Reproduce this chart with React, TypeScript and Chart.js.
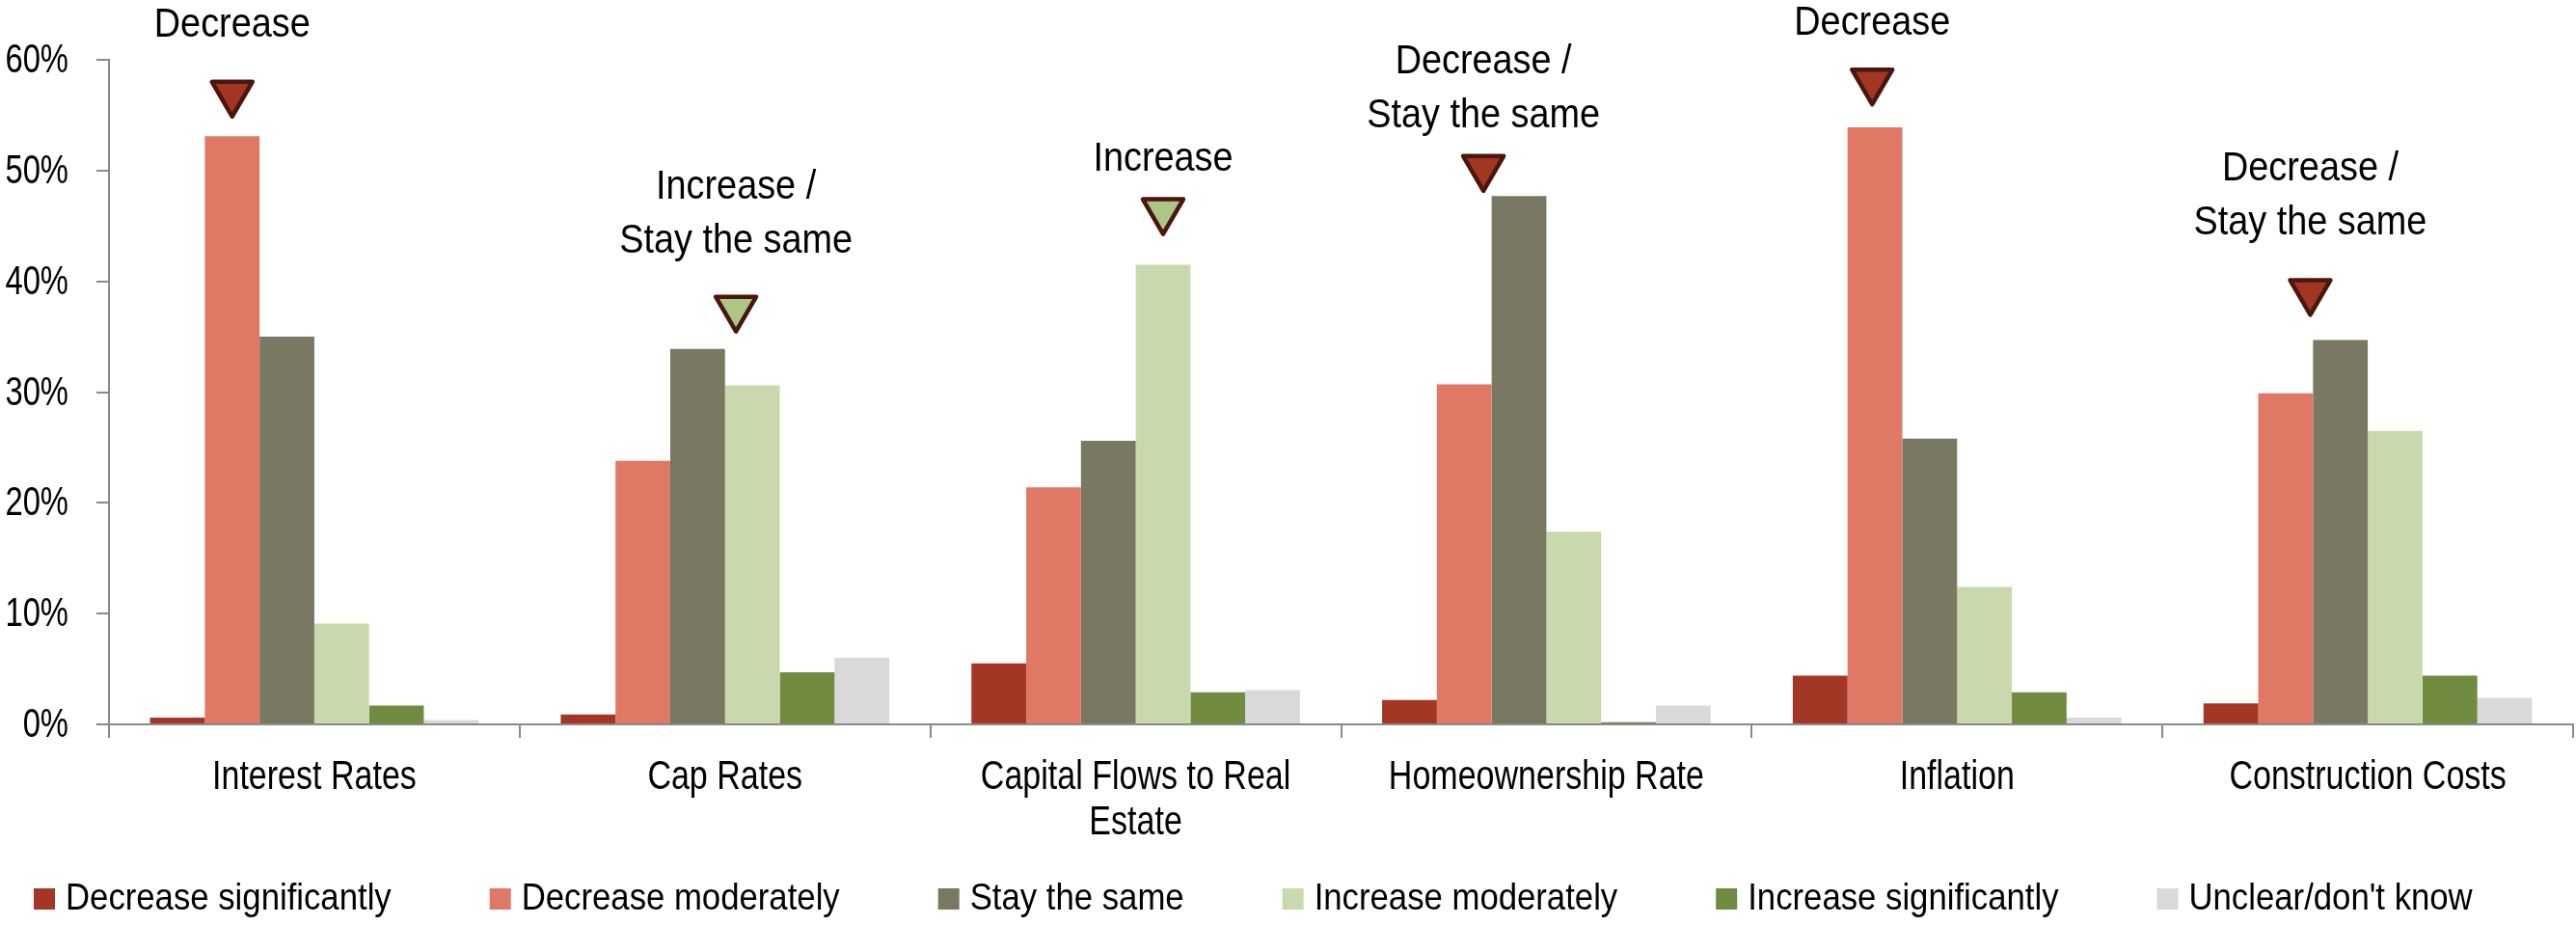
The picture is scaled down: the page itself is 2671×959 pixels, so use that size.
import React, { useEffect, useRef } from "react";
import { Chart, registerables } from "chart.js";

Chart.register(...registerables);

// ---------- data ----------
const categories: (string | string[])[] = [
  "Interest Rates",
  "Cap Rates",
  ["Capital Flows to Real", "Estate"],
  "Homeownership Rate",
  "Inflation",
  "Construction Costs",
];

const seriesNames = [
  "Decrease significantly",
  "Decrease moderately",
  "Stay the same",
  "Increase moderately",
  "Increase significantly",
  "Unclear/don't know",
];

const decreaseSignificantly = [0.6, 0.9, 5.5, 2.2, 4.4, 1.9];
const decreaseModerately = [53.1, 23.8, 21.4, 30.7, 53.9, 29.9];
const stayTheSame = [35.0, 33.9, 25.6, 47.7, 25.8, 34.7];
const increaseModerately = [9.1, 30.6, 41.5, 17.4, 12.4, 26.5];
const increaseSignificantly = [1.7, 4.7, 2.9, 0.2, 2.9, 4.4];
const unclearDontKnow = [0.4, 6.0, 3.1, 1.7, 0.6, 2.4];

const yMin = 0;
const yMax = 60;
const yStep = 10;

// consensus call shown above each category
const outlookLabels: string[][] = [
  ["Decrease"],
  ["Increase /", "Stay the same"],
  ["Increase"],
  ["Decrease /", "Stay the same"],
  ["Decrease"],
  ["Decrease /", "Stay the same"],
];
const outlookDirection = ["down", "up", "up", "down", "down", "down"];
// marker anchor: offset in bar widths from category centre, and value (%) of marker tip / label baseline
const markerBarOffset = [-1.5, 0.2, 0.5, -1.15, -1.55, -1.05];
const markerTipValue = [54.7, 35.3, 44.1, 48.0, 55.8, 36.8];
const labelBaselineValue = [62.1, 42.6, 50.0, 53.9, 62.3, 44.2];

// ---------- styles ----------
const seriesColors = ["#a33624", "#df7965", "#797862", "#c9d9ad", "#718b41", "#d9d9d9"];
const axisColor = "#8a8a8a";
const sansFamily = "'Liberation Sans', Arial, sans-serif";

function drawScaledText(ctx: any, text: string, x: number, y: number, sx: number, align: string) {
  ctx.save();
  ctx.translate(x, y);
  ctx.scale(sx, 1);
  ctx.textAlign = align;
  ctx.textBaseline = "alphabetic";
  ctx.fillText(text, 0, 0);
  ctx.restore();
}

// axis tick labels (Arial-Narrow look: horizontally condensed)
const axisLabelPlugin = {
  id: "axisLabels",
  afterDraw(chart: any) {
    const { ctx } = chart;
    const x = chart.scales.x;
    const y = chart.scales.y;
    ctx.save();
    ctx.fillStyle = "#000";
    ctx.font = `42px ${sansFamily}`;
    for (let i = 0; i < categories.length; i++) {
      const lab = categories[i];
      const lines = Array.isArray(lab) ? lab : [lab];
      const cx = x.getPixelForValue(i);
      lines.forEach((ln, j) => {
        drawScaledText(ctx, ln, cx, x.top + 67 + j * 47, 0.81, "center");
      });
    }
    y.ticks.forEach((t: any) => {
      const py = y.getPixelForValue(t.value);
      drawScaledText(ctx, `${t.value}%`, y.right - 42, py + 13, 0.78, "right");
    });
    ctx.restore();
  },
};

const outlookPlugin = {
  id: "outlook",
  afterDatasetsDraw(chart: any) {
    const { ctx } = chart;
    const x = chart.scales.x;
    const y = chart.scales.y;
    const el: any = chart.getDatasetMeta(0).data[0];
    const barW = el && el.width ? el.width : (x.width / categories.length) * 0.8 / 6;
    ctx.save();
    for (let i = 0; i < categories.length; i++) {
      const cx = x.getPixelForValue(i) + markerBarOffset[i] * barW;
      const tip = y.getPixelForValue(markerTipValue[i]);
      const h = 40;
      const hw = 23;
      ctx.beginPath();
      ctx.moveTo(cx - hw + 2, tip - h + 2);
      ctx.lineTo(cx + hw - 2, tip - h + 2);
      ctx.lineTo(cx, tip - 2);
      ctx.closePath();
      ctx.fillStyle = outlookDirection[i] === "down" ? "#a23623" : "#adc586";
      ctx.fill();
      ctx.lineWidth = 4.5;
      ctx.lineJoin = "round";
      ctx.strokeStyle = "#4b160c";
      ctx.stroke();

      const base = y.getPixelForValue(labelBaselineValue[i]);
      const lines = outlookLabels[i];
      ctx.fillStyle = "#000";
      ctx.font = `43px ${sansFamily}`;
      for (let j = 0; j < lines.length; j++) {
        drawScaledText(ctx, lines[j], cx, base - (lines.length - 1 - j) * 56, 0.88, "center");
      }
    }
    ctx.restore();
  },
};

const legendPlugin = {
  id: "customLegend",
  afterDraw(chart: any) {
    const { ctx } = chart;
    const box = 22;
    const boxTop = chart.height - 38;
    const baseline = boxTop + box;
    const sx = 0.9;
    ctx.save();
    ctx.font = `38.6px ${sansFamily}`;
    let xPos = 35;
    chart.data.datasets.forEach((ds: any) => {
      ctx.fillStyle = ds.backgroundColor;
      ctx.fillRect(xPos, boxTop, box, box);
      const tx = xPos + box + 11;
      ctx.fillStyle = "#000";
      drawScaledText(ctx, ds.label, tx, baseline, sx, "left");
      const w = ctx.measureText(ds.label).width * sx;
      xPos = tx + w + 102;
    });
    ctx.restore();
  },
};

export default function App() {
  const canvasRef = useRef<HTMLCanvasElement | null>(null);

  useEffect(() => {
    if (!canvasRef.current) return;
    const values = [
      decreaseSignificantly,
      decreaseModerately,
      stayTheSame,
      increaseModerately,
      increaseSignificantly,
      unclearDontKnow,
    ];
    const chart = new Chart(canvasRef.current, {
      type: "bar",
      data: {
        labels: categories,
        datasets: values.map((v, i) => ({
          label: seriesNames[i],
          data: v,
          backgroundColor: seriesColors[i],
          borderWidth: 0,
          categoryPercentage: 0.8,
          barPercentage: 1.0,
        })),
      },
      options: {
        animation: false,
        responsive: true,
        maintainAspectRatio: false,
        layout: { padding: { top: 62, right: 3, left: 0, bottom: 0 } },
        plugins: {
          legend: { display: false },
          tooltip: { enabled: false },
          title: { display: false },
        },
        scales: {
          x: {
            afterFit: (s: any) => {
              s.height = 208;
            },
            grid: {
              offset: true,
              drawOnChartArea: false,
              drawTicks: true,
              tickLength: 14,
              color: axisColor,
              lineWidth: 2,
            },
            border: { display: true, color: axisColor, width: 2 },
            ticks: { display: false, autoSkip: false, maxRotation: 0 },
          },
          y: {
            min: yMin,
            max: yMax,
            afterFit: (s: any) => {
              s.width = 113;
            },
            grid: {
              drawOnChartArea: false,
              drawTicks: true,
              tickLength: 13,
              color: axisColor,
              lineWidth: 2,
            },
            border: { display: true, color: axisColor, width: 2 },
            ticks: { display: false, stepSize: yStep },
          },
        },
      },
      plugins: [outlookPlugin, axisLabelPlugin, legendPlugin],
    });
    return () => chart.destroy();
  }, []);

  return (
    <div style={{ position: "fixed", left: 0, top: 0, width: "2671px", height: "959px", background: "#fff" }}>
      <canvas ref={canvasRef} />
    </div>
  );
}
